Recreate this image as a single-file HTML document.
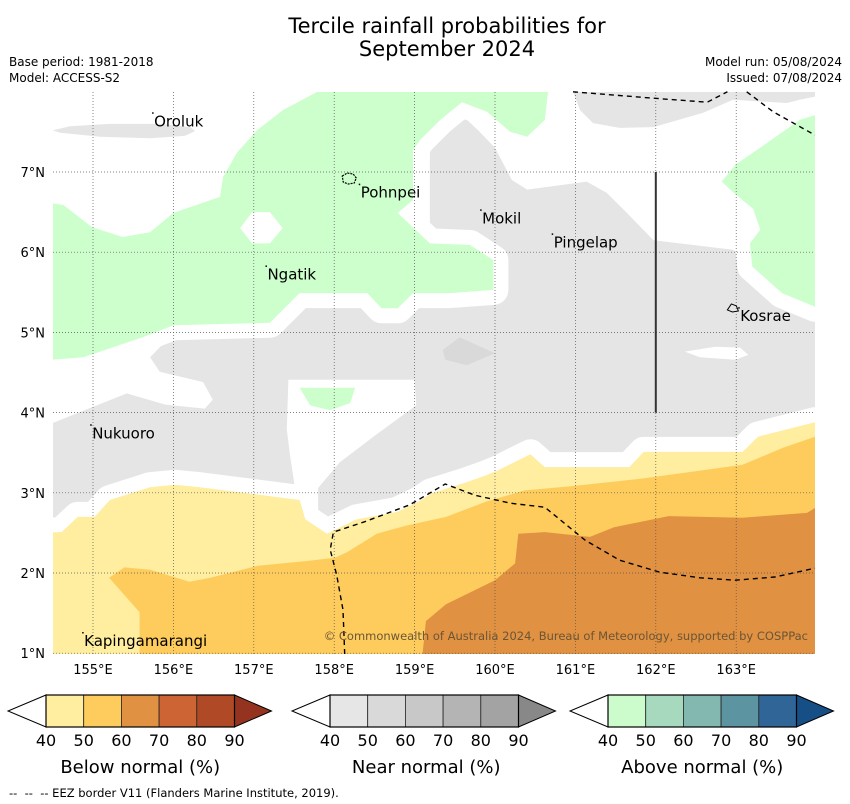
<!DOCTYPE html>
<html><head><meta charset="utf-8">
<style>
body{margin:0;background:#fff;width:850px;height:804px;overflow:hidden;font-family:"DejaVu Sans","Liberation Sans",sans-serif;}
svg{display:block}
</style></head>
<body>
<svg id="chart" width="850" height="804" viewBox="0 0 850 804" xmlns="http://www.w3.org/2000/svg">
<defs><clipPath id="mapclip"><rect x="53" y="92" width="762" height="562"/></clipPath></defs>
<text x="447" y="33" text-anchor="middle" font-size="21" fill="#000">Tercile rainfall probabilities for</text>
<text x="447" y="56" text-anchor="middle" font-size="21" fill="#000">September 2024</text>
<text x="9" y="66" font-size="12">Base period: 1981-2018</text>
<text x="9" y="82" font-size="12">Model: ACCESS-S2</text>
<text x="842" y="66" font-size="12" text-anchor="end">Model run: 05/08/2024</text>
<text x="842" y="82" font-size="12" text-anchor="end">Issued: 07/08/2024</text>
<g id="map" clip-path="url(#mapclip)"></g>
<g id="over"></g>
<g id="legend"></g>
<text x="9" y="797" font-size="11.5" style="white-space:pre">--  --  -- EEZ border V11 (Flanders Marine Institute, 2019).</text>
</svg>
<script>
// ---- data (lon, lat) ----
const lonTicks = [155,156,157,158,159,160,161,162,163];
const latTicks = [1,2,3,4,5,6,7];
const grayMain = [[154.5,3.87],[155.42,4.24],[155.9,4.1],[156.39,4.05],[156.49,4.16],[156.37,4.38],[155.83,4.51],[155.71,4.69],[156.04,5.03],[157.2,5.03],[157.57,5.4],[158.41,5.4],[158.61,5.22],[158.79,5.22],[158.98,5.4],[159.19,5.4],[159.19,7.31],[159.59,7.71],[159.79,7.52],[160.0,7.3],[160.21,6.9],[160.4,6.78],[161.14,6.88],[161.39,6.74],[161.64,6.49],[161.97,6.15],[162.96,6.03],[163.3,5.78],[163.98,5.4],[163.98,3.28],[154.5,2.16]];
const grayTop = [[160.97,8.0],[163.98,8.0],[163.98,7.94],[163.79,7.9],[163.63,7.86],[162.96,7.9],[162.59,7.74],[161.97,7.56],[161.55,7.55],[161.22,7.61],[161.06,7.77]];
const grayOroluk = [[154.5,7.52],[154.71,7.57],[155.21,7.6],[155.83,7.6],[156.21,7.56],[156.27,7.51],[156.14,7.45],[155.71,7.42],[155.09,7.44],[154.59,7.49]];
const grayDark = [[159.35,4.78],[159.56,4.94],[160.0,4.74],[159.65,4.59],[159.38,4.66]];
const whiteHole = [[157.43,4.41],[159.0,4.41],[159.02,4.09],[158.57,3.76],[158.07,3.38],[157.8,3.06],[157.8,2.67],[157.57,2.67],[157.45,3.47],[157.41,3.79]];
const whiteEllipse = [[162.36,4.76],[162.74,4.82],[163.05,4.81],[163.15,4.72],[162.99,4.66],[162.55,4.69]];
const greenMain = [[154.5,6.61],[154.63,6.59],[154.99,6.31],[155.37,6.19],[155.71,6.25],[156.0,6.49],[156.29,6.59],[156.58,6.69],[156.62,6.94],[156.79,7.24],[157.04,7.52],[157.36,7.77],[157.79,8.0],[160.66,8.0],[160.62,7.65],[160.4,7.44],[160.19,7.5],[159.9,7.75],[159.59,7.87],[159.32,7.65],[159.07,7.4],[158.98,7.27],[158.98,6.65],[158.79,6.49],[159.19,6.11],[159.69,6.09],[159.98,5.9],[159.98,5.53],[159.44,5.49],[158.98,5.49],[158.79,5.3],[158.59,5.3],[158.41,5.49],[157.57,5.49],[157.2,5.12],[156.0,5.09],[155.62,4.94],[154.88,4.69],[154.5,4.66]];
const greenKosrae = [[164.2,7.71],[163.98,7.71],[163.79,7.65],[163.38,7.36],[162.99,7.09],[162.82,6.88],[162.96,6.75],[163.21,6.54],[163.3,6.28],[163.17,6.11],[163.2,5.82],[163.57,5.49],[163.98,5.32],[164.2,5.32]];
const greenBlob = [[157.57,4.31],[158.26,4.31],[158.2,4.12],[157.95,4.03],[157.7,4.09]];
const greenHole = [[156.83,6.3],[156.98,6.5],[157.2,6.5],[157.36,6.3],[157.2,6.11],[156.98,6.11]];
const below40 = [[154.3,2.5],[154.61,2.51],[154.81,2.7],[155.02,2.7],[155.21,2.91],[155.71,3.07],[156.02,3.1],[156.33,3.07],[157.57,2.91],[157.64,2.67],[157.91,2.49],[158.28,2.67],[158.78,2.76],[159.05,2.89],[159.2,2.99],[159.64,3.13],[159.89,3.22],[160.04,3.28],[160.44,3.48],[160.62,3.32],[161.67,3.32],[161.85,3.51],[163.08,3.51],[163.27,3.7],[163.98,3.88],[164.2,3.9],[164.2,0.8],[154.3,0.8]];
const below50 = [[155.2,1.94],[155.39,2.07],[155.71,2.04],[156.2,1.89],[156.46,1.94],[157.05,2.09],[157.66,2.15],[158.01,2.19],[158.16,2.26],[158.53,2.49],[158.89,2.59],[159.39,2.7],[159.89,2.89],[160.37,3.03],[160.93,3.08],[161.85,3.18],[163.08,3.35],[163.58,3.56],[163.98,3.7],[164.2,3.72],[164.2,0.8],[155.58,0.8],[155.58,1.51]];
const below60 = [[159.08,0.8],[159.14,1.4],[159.39,1.61],[160.0,1.91],[160.25,2.12],[160.29,2.49],[160.62,2.51],[161.18,2.45],[161.48,2.57],[162.16,2.71],[163.08,2.69],[163.88,2.75],[163.98,2.81],[164.2,2.83],[164.2,0.8]];
const eezTop1 = [[160.97,8.0],[161.97,7.92],[162.64,7.87],[162.89,8.0]];
const eezTop2 = [[163.13,8.0],[163.46,7.75],[163.98,7.46]];
const eezLower = [[158.13,0.99],[158.11,1.54],[158.03,1.98],[157.95,2.29],[157.99,2.51],[158.38,2.64],[158.94,2.85],[159.38,3.11],[159.75,2.97],[160.19,2.87],[160.62,2.82],[161.12,2.41],[161.55,2.16],[162.05,2.01],[162.55,1.94],[162.99,1.91],[163.48,1.95],[163.98,2.06]];
const islandNames = ["Oroluk","Pohnpei","Mokil","Pingelap","Ngatik","Kosrae","Nukuoro","Kapingamarangi"];
const islandLon = [155.76,158.33,159.84,160.73,157.17,163.05,154.99,154.89];
const islandLat = [7.57,6.68,6.36,6.06,5.66,5.14,3.68,1.09];
const legendTicks = [40,50,60,70,80,90];

// ---- axes ----
const X = lon => 93 + (lon-155)*80.4;
const Y = lat => 172 + (7-lat)*80.2;
const NS = "http://www.w3.org/2000/svg";
const map = document.getElementById('map');
const over = document.getElementById('over');
const legend = document.getElementById('legend');
function mk(tag, attrs, parent){const e=document.createElementNS(NS,tag);for(const k in attrs)e.setAttribute(k,attrs[k]);parent.appendChild(e);return e;}
const pts = arr => arr.map(p=>X(p[0]).toFixed(1)+','+Y(p[1]).toFixed(1)).join(' ');
function poly(arr, fill, name, stroke){
  const e = mk('polygon',{points:pts(arr),fill:fill},map);
  if(stroke){e.setAttribute('stroke','#fff');e.setAttribute('stroke-width',stroke);e.setAttribute('stroke-linejoin','round');}
  
  
  return e;
}
poly(grayMain,'#e5e5e5','near-normal-region');
poly(grayTop,'#e5e5e5','near-normal-top-region');
poly(grayDark,'#d9d9d9','near-normal-50-patch');
poly(whiteEllipse,'#fff','no-signal-patch');
poly(whiteHole,'#fff','no-signal-hole');
poly(greenMain,'#fff','green-margin',30);
poly(greenKosrae,'#fff','green-margin-kosrae',30);
poly(greenBlob,'#fff','green-margin-blob',12);
poly(greenMain,'#ccffcc','above-normal-region');
poly(greenKosrae,'#ccffcc','above-normal-kosrae');
poly(greenBlob,'#ccffcc','above-normal-blob');
poly(greenHole,'#fff','green-hole');
poly(grayOroluk,'#e5e5e5','near-normal-oroluk');
poly(below40,'#fff','below-margin',30);
poly(below40,'#ffeda0','below-normal-40');
poly(below50,'#fecc5c','below-normal-50');
poly(below60,'#e09142','below-normal-60');

lonTicks.forEach(l=>{
  const g = mk('line',{x1:X(l),x2:X(l),y1:92,y2:654,stroke:'#555','stroke-width':0.7,'stroke-dasharray':'1,2'},over);
  
  
  const t = mk('text',{x:X(l),y:674,'text-anchor':'middle','font-size':13},over);
  t.textContent = l+'°E';
  
  
});
latTicks.forEach(l=>{
  const g = mk('line',{x1:53,x2:815,y1:Y(l),y2:Y(l),stroke:'#555','stroke-width':0.7,'stroke-dasharray':'1,2'},over);
  
  
  const t = mk('text',{x:45,y:Y(l)+5,'text-anchor':'end','font-size':13},over);
  t.textContent = l+'°N';
  
  
});
const vl = mk('line',{x1:X(162),x2:X(162),y1:Y(7),y2:Y(4),stroke:'#333','stroke-width':2},over);


[eezTop1,eezTop2,eezLower].forEach(a=>{
  const p = mk('polyline',{points:pts(a),fill:'none',stroke:'#000','stroke-width':1.4,'stroke-dasharray':'5,4'},over);
  
  
});
const pohn = mk('path',{d:`M${X(158.1)},${Y(6.95)} l5,-3 l6,1 l3,4 l-2,5 l-6,1 l-5,-2 z`,fill:'none',stroke:'#000','stroke-width':1.2,'stroke-dasharray':'2,1'},over);


const kos = mk('path',{d:`M${X(162.89)},${Y(5.28)} l4,-6 l5,2 l2,5 l-6,1 z`,fill:'none',stroke:'#000','stroke-width':1},over);


islandNames.forEach((n,i)=>{
  const d = mk('rect',{x:X(islandLon[i])-2,y:Y(islandLat[i])-14,width:1.5,height:1.5,fill:'#000'},over);
  
  
  const t = mk('text',{x:X(islandLon[i]),y:Y(islandLat[i]),'font-size':15,fill:'#000'},over);
  t.textContent = n;
  
  
});
const cp = mk('text',{x:808,y:640,'text-anchor':'end','font-size':11.5,fill:'#6b5535'},over);
cp.textContent = '© Commonwealth of Australia 2024, Bureau of Meteorology, supported by COSPPac';



const legendSets = [
  {name:'below',x0:46,title:'Below normal (%)',cols:['#ffeda0','#fecc5c','#e09142','#cc6433','#b04a26'],arrow:'#943420'},
  {name:'near',x0:330,title:'Near normal (%)',cols:['#e6e6e6','#d9d9d9','#c8c8c8','#b4b4b4','#a3a3a3'],arrow:'#888888'},
  {name:'above',x0:608,title:'Above normal (%)',cols:['#ccfccc','#a6d9bd','#82b8b0','#5c94a2','#306597'],arrow:'#164e86'}
];
legendSets.forEach(s=>{
  const g = mk('g',{},legend);
  
  
  const w = 37.7, y0=695, h=32, x0=s.x0;
  mk('polygon',{points:`${x0},${y0} ${x0-38},${y0+h/2} ${x0},${y0+h}`,fill:'#fff',stroke:'#000','stroke-width':1},g);
  s.cols.forEach((c,i)=>{
    const r = mk('rect',{x:x0+i*w,y:y0,width:w,height:h,fill:c,stroke:'#222','stroke-width':0.8},g);
    
    
  });
  const ex = x0+5*w;
  mk('polygon',{points:`${ex},${y0} ${ex+37},${y0+h/2} ${ex},${y0+h}`,fill:s.arrow,stroke:'#000','stroke-width':1},g);
  mk('rect',{x:x0,y:y0,width:5*w,height:h,fill:'none',stroke:'#000','stroke-width':1.2},g);
  legendTicks.forEach((v,i)=>{
    const t = mk('text',{x:x0+i*w,y:746,'text-anchor':'middle','font-size':16},g);
    t.textContent = v;
    
    
  });
  const tt = mk('text',{x:x0+2.5*w+(s.name==='near'?2:0),y:773,'text-anchor':'middle','font-size':18},g);
  tt.textContent = s.title;
  
  
});
</script>
</body></html>
